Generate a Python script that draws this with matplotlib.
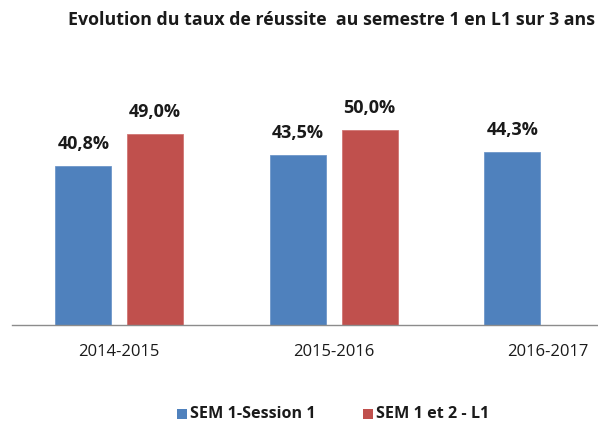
import matplotlib
matplotlib.use("Agg")
import matplotlib.pyplot as plt
from matplotlib.patches import Rectangle
import numpy as np

categories = ["2014-2015", "2015-2016", "2016-2017"]
sem1_session1 = [40.8, 43.5, 44.3]
sem1_et_2 = [49.0, 50.0, None]
series_names = ["SEM 1-Session 1", "SEM 1 et 2 - L1"]
title = "Evolution du taux de réussite  au semestre 1 en L1 sur 3 ans"

blue = "#4F81BD"
red = "#C0504D"
font = "Open Sans"

W, H = 598, 421
fig = plt.figure(figsize=(W / 100, H / 100), dpi=100)
left_px, right_px = 12, 655.5
bottom_px, top_px = 325, 91
ax = fig.add_axes([left_px / W, (H - bottom_px) / H, (right_px - left_px) / W, (bottom_px - top_px) / H])

x = np.arange(len(categories))
bw = 0.261
off = 0.167

def fmt(v):
    return f"{v:.1f}%".replace(".", ",")

for i, v in enumerate(sem1_session1):
    ax.bar(x[i] - off, v, width=bw, color=blue, edgecolor="#6f97c9", linewidth=0.6)
    ax.text(x[i] - off, v + 3.3, fmt(v), ha="center", va="bottom", fontsize=13,
            fontweight="bold", family=font, color="#1a1a1a")
for i, v in enumerate(sem1_et_2):
    if v is None:
        continue
    ax.bar(x[i] + off, v, width=bw, color=red, edgecolor="#d07573", linewidth=0.6)
    ax.text(x[i] + off, v + 3.3, fmt(v), ha="center", va="bottom", fontsize=13,
            fontweight="bold", family=font, color="#1a1a1a")

ax.set_xlim(-0.5, 2.5)
ax.set_ylim(0, 60)
ax.set_yticks([])
ax.set_xticks(x)
ax.set_xticklabels(categories, fontsize=12, family=font, color="#1a1a1a")
ax.tick_params(axis="x", length=0, pad=13.5)
for s in ["top", "right", "left"]:
    ax.spines[s].set_visible(False)
ax.spines["bottom"].set_color("#8c8c8c")
ax.spines["bottom"].set_linewidth(1.0)

fig.text(331 / W, 1 - 20 / H, title, ha="center", va="center", fontsize=12.8,
         fontweight="bold", family=font, color="#1a1a1a")

# legend (manual placement)
leg_y = 414
sq = 10.5
for (sx, tx), name, col in zip([(176.5, 190.5), (362.5, 376.5)], series_names, [blue, red]):
    fig.patches.append(Rectangle((sx / W, (H - leg_y - sq / 2) / H), sq / W, sq / H,
                                 transform=fig.transFigure, facecolor=col, edgecolor="none"))
    fig.text(tx / W, 1 - leg_y / H, name, ha="left", va="center", fontsize=11.6,
             fontweight="bold", family=font, color="#1a1a1a")

fig.savefig("out.png", dpi=100)
